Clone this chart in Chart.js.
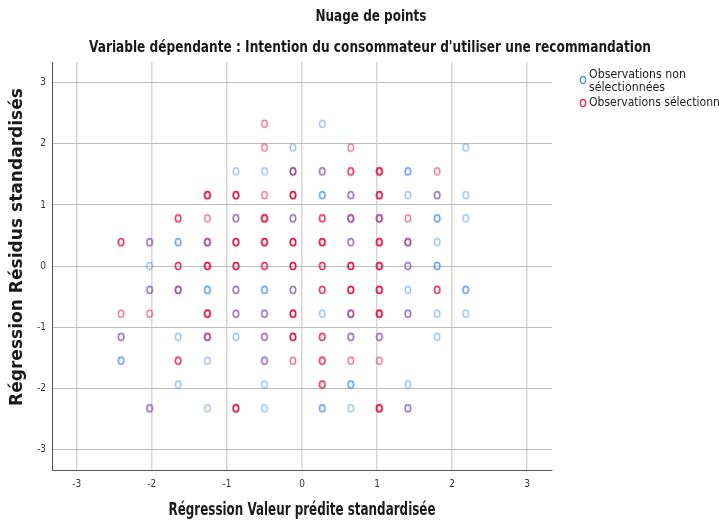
<!DOCTYPE html>
<html>
<head>
<meta charset="utf-8">
<script src="https://cdn.jsdelivr.net/npm/chart.js@4.4.0/dist/chart.umd.min.js"></script>
<style>
  html, body { margin: 0; padding: 0; background: #fff; overflow: hidden; }
  #wrap { width: 719px; height: 522px; }
</style>
</head>
<body>
<div id="wrap"><canvas id="scatterChart" width="719" height="522"></canvas></div>
<script>
const FONT = '"Liberation Sans Narrow", "DejaVu Sans Condensed", "Roboto Condensed", sans-serif'

const chartTitle = 'Nuage de points'
const chartSubtitle = "Variable dépendante : Intention du consommateur d'utiliser une recommandation"
const xTitle = 'Régression Valeur prédite standardisée'
const yTitle = 'Régression Résidus standardisés'
const legendLabels = [['Observations non', 'sélectionnées'], ['Observations sélectionnées']]
const tickValues = [-3, -2, -1, 0, 1, 2, 3]

// [valeur prédite, résidu, nombre d'observations superposées]
const selectedPts = [
    [-0.50, 2.33, 1],
    [-0.50, 1.94, 1], [0.65, 1.94, 1],
    [-0.12, 1.55, 2], [0.27, 1.55, 1], [0.65, 1.55, 2], [1.03, 1.55, 3], [1.80, 1.55, 1],
    [-1.26, 1.16, 3], [-0.88, 1.16, 3], [-0.50, 1.16, 1], [-0.12, 1.16, 3], [0.65, 1.16, 1], [1.03, 1.16, 3], [1.80, 1.16, 1],
    [-1.65, 0.78, 2], [-1.26, 0.78, 1], [-0.88, 0.78, 1], [-0.50, 0.78, 3], [-0.12, 0.78, 1], [0.27, 0.78, 2], [0.65, 0.78, 2], [1.03, 0.78, 2], [1.41, 0.78, 1],
    [-2.41, 0.39, 2], [-2.03, 0.39, 1], [-1.26, 0.39, 2], [-0.88, 0.39, 3], [-0.50, 0.39, 3], [-0.12, 0.39, 3], [0.27, 0.39, 3], [0.65, 0.39, 1], [1.03, 0.39, 3], [1.41, 0.39, 2],
    [-1.65, 0, 2], [-1.26, 0, 3], [-0.88, 0, 3], [-0.50, 0, 2], [-0.12, 0, 3], [0.27, 0, 2], [0.65, 0, 3], [1.03, 0, 3], [1.41, 0, 1],
    [-2.03, -0.39, 1], [-1.65, -0.39, 2], [-0.88, -0.39, 1], [-0.12, -0.39, 1], [0.27, -0.39, 2], [0.65, -0.39, 3], [1.03, -0.39, 3], [1.80, -0.39, 2],
    [-2.41, -0.78, 1], [-2.03, -0.78, 1], [-1.26, -0.78, 3], [-0.88, -0.78, 1], [-0.50, -0.78, 1], [-0.12, -0.78, 3], [0.65, -0.78, 2], [1.03, -0.78, 3], [1.41, -0.78, 1],
    [-2.41, -1.16, 1], [-1.26, -1.16, 2], [-0.50, -1.16, 1], [-0.12, -1.16, 3], [0.27, -1.16, 2], [0.65, -1.16, 1], [1.03, -1.16, 1],
    [-1.65, -1.55, 2], [-0.50, -1.55, 1], [-0.12, -1.55, 1], [0.27, -1.55, 2], [0.65, -1.55, 1], [1.03, -1.55, 1],
    [0.27, -1.94, 2],
    [-2.03, -2.33, 1], [-0.88, -2.33, 3], [1.03, -2.33, 3], [1.41, -2.33, 1]
]

const nonSelectedPts = [
    [0.27, 2.33, 1],
    [-0.12, 1.94, 1], [2.18, 1.94, 1],
    [-0.88, 1.55, 1], [-0.50, 1.55, 1], [-0.12, 1.55, 1], [0.27, 1.55, 1], [1.41, 1.55, 2],
    [0.27, 1.16, 2], [0.65, 1.16, 1], [1.41, 1.16, 1], [1.80, 1.16, 1], [2.18, 1.16, 1],
    [-0.88, 0.78, 1], [-0.12, 0.78, 1], [0.65, 0.78, 1], [1.03, 0.78, 1], [1.80, 0.78, 2], [2.18, 0.78, 1],
    [-2.03, 0.39, 1], [-1.65, 0.39, 2], [-1.26, 0.39, 1], [0.65, 0.39, 1], [1.41, 0.39, 1], [1.80, 0.39, 1],
    [-2.03, 0, 1], [1.41, 0, 1], [1.80, 0, 2],
    [-2.03, -0.39, 1], [-1.65, -0.39, 1], [-1.26, -0.39, 2], [-0.88, -0.39, 1], [-0.50, -0.39, 2], [-0.12, -0.39, 1], [1.41, -0.39, 1], [2.18, -0.39, 2],
    [-0.88, -0.78, 1], [-0.50, -0.78, 1], [0.27, -0.78, 1], [0.65, -0.78, 1], [1.41, -0.78, 1], [1.80, -0.78, 1], [2.18, -0.78, 1],
    [-2.41, -1.16, 1], [-1.65, -1.16, 1], [-1.26, -1.16, 1], [-0.88, -1.16, 1], [-0.50, -1.16, 1], [0.65, -1.16, 1], [1.03, -1.16, 1], [1.80, -1.16, 1],
    [-2.41, -1.55, 2], [-1.26, -1.55, 1], [-0.50, -1.55, 1],
    [-1.65, -1.94, 1], [-0.50, -1.94, 1], [0.65, -1.94, 2], [1.41, -1.94, 1],
    [-2.03, -2.33, 1], [-1.26, -2.33, 1], [-0.50, -2.33, 1], [0.27, -2.33, 2], [0.65, -2.33, 1], [1.41, -2.33, 1]
]

const RED = 'rgba(210, 5, 55, 0.55)'
const BLUE = 'rgba(60, 130, 225, 0.5)'

// small hollow oval, like the SPSS "o" marker
function makeMarker(color) {
    const c = document.createElement('canvas')
    c.width = 10
    c.height = 12
    const g = c.getContext('2d')
    g.strokeStyle = color
    g.lineWidth = 1.5
    g.beginPath()
    g.ellipse(5, 6, 2.7, 3.6, 0, 0, Math.PI * 2)
    g.stroke()
    return c
}

function expand(points) {
    let out = []
    points.forEach(p => {
        for (let i = 0; i < p[2]; i++) out.push({ x: p[0], y: p[1] })
    })
    return out
}

// the original uses a condensed face, so fit the text to its width
function fittedText(ctx, text, x, y, font, width) {
    ctx.font = font
    const w = ctx.measureText(text).width
    ctx.save()
    ctx.translate(x, y)
    ctx.scale(width / w, 1)
    ctx.fillText(text, 0, 0)
    ctx.restore()
}

const textPlugin = {
    id: 'spssTexts',
    afterDraw(chart) {
        const ctx = chart.ctx
        const area = chart.chartArea
        ctx.save()
        ctx.fillStyle = '#1a1a1a'
        ctx.textAlign = 'center'
        ctx.textBaseline = 'middle'

        fittedText(ctx, chartTitle, 371, 17, 'bold 15px ' + FONT, 111)
        fittedText(ctx, chartSubtitle, 370, 48, 'bold 16px ' + FONT, 562)
        fittedText(ctx, xTitle, (area.left + area.right) / 2, 511, 'bold 17px ' + FONT, 267)

        ctx.save()
        ctx.translate(18, 247)
        ctx.rotate(-Math.PI / 2)
        fittedText(ctx, yTitle, 0, 0, 'bold 17px ' + FONT, 318)
        ctx.restore()

        // legend
        ctx.textAlign = 'left'
        ctx.drawImage(makeMarker('rgba(60, 130, 225, 0.85)'), 578, 74)
        fittedText(ctx, legendLabels[0][0], 589, 75, '13px ' + FONT, 97)
        fittedText(ctx, legendLabels[0][1], 589, 88, '13px ' + FONT, 76)
        ctx.drawImage(makeMarker('rgba(210, 5, 55, 0.8)'), 578, 97)
        fittedText(ctx, legendLabels[1][0], 589, 103, '13px ' + FONT, 150)
        ctx.restore()
    }
}

const setTicks = axis => { axis.ticks = tickValues.map(v => ({ value: v })) }

const data = {
    datasets: [
        {
            label: legendLabels[0].join(' '),
            data: expand(nonSelectedPts),
            pointStyle: makeMarker(BLUE)
        },
        {
            label: legendLabels[1][0],
            data: expand(selectedPts),
            pointStyle: makeMarker(RED)
        }
    ]
}

const options = {
    responsive: false,
    animation: false,
    devicePixelRatio: 1,
    layout: { padding: { top: 62, right: 167, left: 0, bottom: 0 } },
    plugins: {
        legend: { display: false },
        title: { display: false },
        tooltip: { enabled: false }
    },
    scales: {
        x: {
            type: 'linear',
            min: -3.33,
            max: 3.33,
            afterBuildTicks: setTicks,
            afterFit: axis => { axis.height = 52 },
            grid: { color: '#d6d6d6', lineWidth: 1.5, drawTicks: false },
            border: { color: '#555', width: 1 },
            ticks: { padding: 8, color: '#333', font: { size: 10, family: FONT } }
        },
        y: {
            type: 'linear',
            min: -3.34,
            max: 3.34,
            afterBuildTicks: setTicks,
            afterFit: axis => { axis.width = 52 },
            grid: { color: '#bdbdbd', lineWidth: 1, drawTicks: false },
            border: { color: '#555', width: 1 },
            ticks: { padding: 6, color: '#333', font: { size: 10, family: FONT } }
        }
    }
}

new Chart('scatterChart', { type: 'scatter', data, options, plugins: [textPlugin] })
</script>
</body>
</html>
